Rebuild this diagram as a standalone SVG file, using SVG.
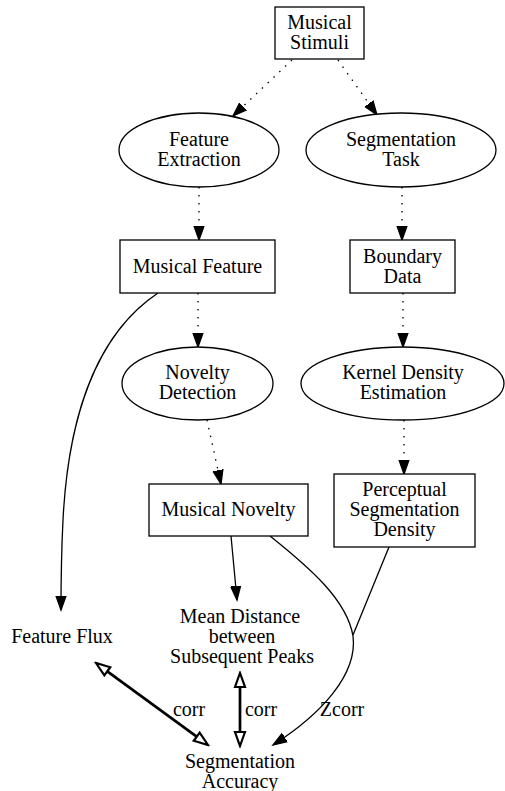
<svg xmlns="http://www.w3.org/2000/svg" width="505" height="791" viewBox="0 0 505 791" font-family="'Liberation Serif', 'DejaVu Serif', serif">
<style>
.n{fill:#fff;stroke:#000;stroke-width:1.3}
text{font-family:'Liberation Serif','DejaVu Serif',serif;font-size:20px;fill:#000;text-anchor:middle}
.e{fill:none;stroke:#000;stroke-width:1.3}
.d{stroke-dasharray:1.5,6.5}
.b{fill:none;stroke:#000;stroke-width:2.7}
</style>
<defs>
<marker id="fa" markerUnits="userSpaceOnUse" markerWidth="16" markerHeight="12" viewBox="0 -6 16 12" refX="14" refY="0" orient="auto">
<path d="M0,-5 L14,0 L0,5 z" fill="#000" stroke="#000" stroke-width="1.3"/>
</marker>
<marker id="oa" markerUnits="userSpaceOnUse" markerWidth="18" markerHeight="14" viewBox="-2 -7 18 14" refX="0" refY="0" orient="auto-start-reverse">
<path d="M0,-5 L14,0 L0,5 z" fill="#fff" stroke="#000" stroke-width="2.2"/>
</marker>
</defs>
<rect width="505" height="791" fill="#fff"/>
<g id="edges">
<path class="e d" d="M292,60 L233,116" marker-end="url(#fa)"/>
<path class="e d" d="M338,60 L377,115" marker-end="url(#fa)"/>
<path class="e d" d="M199,187 L199,240" marker-end="url(#fa)"/>
<path class="e d" d="M402,187 L402,240" marker-end="url(#fa)"/>
<path class="e d" d="M198,293 L198,347" marker-end="url(#fa)"/>
<path class="e d" d="M403,293 L403,347" marker-end="url(#fa)"/>
<path class="e d" d="M207,420 L221,484" marker-end="url(#fa)"/>
<path class="e d" d="M404,420 L404,474" marker-end="url(#fa)"/>
<path class="e" d="M158,293 C95,335 68,420 63,520 C61,560 61,580 61,610" marker-end="url(#fa)"/>
<path class="e" d="M231,536 L237,600" marker-end="url(#fa)"/>
<path class="e" d="M270,536 C310,568 347,600 353,636 C358,675 320,715 273,745" marker-end="url(#fa)"/>
<path class="e" d="M389,547 L353,635"/>
<path class="b" d="M107.3,671.3 L196.7,736.7" marker-start="url(#oa)" marker-end="url(#oa)"/>
<path class="b" d="M240,687 L240,732" marker-start="url(#oa)" marker-end="url(#oa)"/>
<text x="189" y="716">corr</text>
<text x="261" y="716">corr</text>
<text x="342" y="716">Zcorr</text>
</g>
<g id="musical_stimuli">
<rect class="n" x="275" y="7" width="89" height="52"/>
<text x="319.5" y="29">Musical</text>
<text x="319.5" y="49">Stimuli</text>
</g>
<g id="feature_extraction">
<ellipse class="n" cx="199" cy="150" rx="80" ry="37"/>
<text x="199" y="146">Feature</text>
<text x="199" y="166">Extraction</text>
</g>
<g id="segmentation_task">
<ellipse class="n" cx="401" cy="150" rx="95" ry="37"/>
<text x="401" y="146">Segmentation</text>
<text x="401" y="166">Task</text>
</g>
<g id="musical_feature">
<rect class="n" x="120" y="240" width="155" height="53"/>
<text x="197.5" y="273">Musical Feature</text>
</g>
<g id="boundary_data">
<rect class="n" x="350" y="240" width="105" height="53"/>
<text x="402.5" y="263">Boundary</text>
<text x="402.5" y="283">Data</text>
</g>
<g id="novelty_detection">
<ellipse class="n" cx="197.5" cy="383.5" rx="75.5" ry="36.5"/>
<text x="197.5" y="379">Novelty</text>
<text x="197.5" y="399">Detection</text>
</g>
<g id="kernel_density_estimation">
<ellipse class="n" cx="402.5" cy="383.5" rx="101.5" ry="36.5"/>
<text x="403" y="379">Kernel Density</text>
<text x="403" y="399">Estimation</text>
</g>
<g id="musical_novelty">
<rect class="n" x="149" y="484" width="159" height="52"/>
<text x="228.5" y="516">Musical Novelty</text>
</g>
<g id="perceptual_segmentation_density">
<rect class="n" x="334" y="474" width="141" height="73"/>
<text x="404.5" y="496">Perceptual</text>
<text x="404.5" y="516">Segmentation</text>
<text x="404.5" y="536">Density</text>
</g>
<g id="feature_flux">
<text x="62" y="643">Feature Flux</text>
</g>
<g id="mean_distance">
<text x="240" y="623">Mean Distance</text>
<text x="242" y="643">between</text>
<text x="242" y="663">Subsequent Peaks</text>
</g>
<g id="segmentation_accuracy">
<text x="240" y="768">Segmentation</text>
<text x="240" y="788">Accuracy</text>
</g>
</svg>
